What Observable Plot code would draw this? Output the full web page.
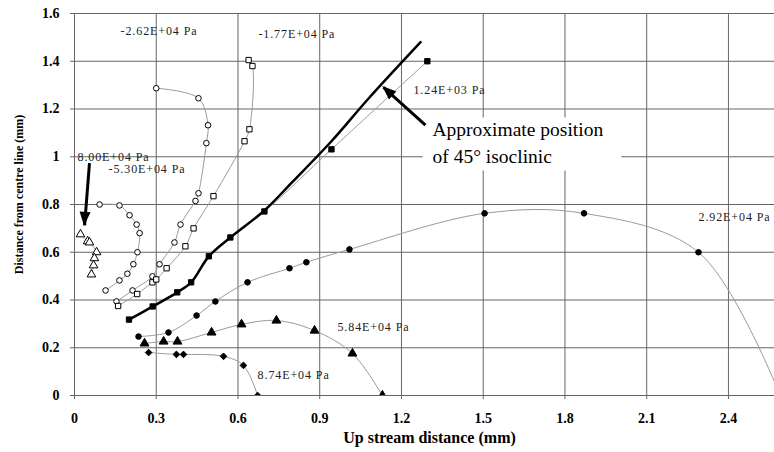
<!DOCTYPE html>
<html><head><meta charset="utf-8">
<script src="https://cdn.jsdelivr.net/npm/d3@7"></script>
<script src="https://cdn.jsdelivr.net/npm/@observablehq/plot@0.6"></script>
<style>
body{margin:0;background:#fff}
#chart svg, #chart svg text { font-family: "Liberation Serif", "Times New Roman", Times, "DejaVu Serif", serif !important; }
</style>
</head><body><div id="chart"></div>
<script>
// ticks and domains
const xTicks = [0, 0.3, 0.6, 0.9, 1.2, 1.5, 1.8, 2.1, 2.4];
const yTicks = [0, 0.2, 0.4, 0.6, 0.8, 1, 1.2, 1.4, 1.6];
const xDomain = [0, 2.569];
const yDomain = [0, 1.6];

// series (x = up stream distance, y = distance from centre line), mm
const s800X = [0.022, 0.048, 0.055, 0.081, 0.073, 0.070, 0.062];
const s800Y = [0.675, 0.646, 0.641, 0.600, 0.575, 0.545, 0.507];

const m530X = [0.114, 0.165, 0.194, 0.216, 0.231, 0.239, 0.228, 0.202, 0.165, 0.092];
const m530Y = [0.440, 0.482, 0.510, 0.550, 0.600, 0.680, 0.716, 0.755, 0.796, 0.800];

const m262X = [0.154, 0.213, 0.286, 0.312, 0.367, 0.389, 0.444, 0.455, 0.484, 0.490, 0.455, 0.300];
const m262Y = [0.394, 0.440, 0.499, 0.550, 0.641, 0.716, 0.815, 0.847, 1.057, 1.132, 1.245, 1.287];

const m177X = [0.160, 0.230, 0.286, 0.300, 0.338, 0.407, 0.437, 0.510, 0.624, 0.642, 0.653, 0.639];
const m177Y = [0.375, 0.425, 0.474, 0.486, 0.533, 0.625, 0.700, 0.835, 1.065, 1.115, 1.380, 1.405];

const p124X = [0.200, 0.287, 0.377, 0.428, 0.493, 0.572, 0.697, 0.943, 1.295];
const p124Y = [0.318, 0.373, 0.432, 0.474, 0.583, 0.662, 0.771, 1.031, 1.400];

const isoX = [0.200, 0.287, 0.377, 0.428, 0.493, 0.572, 0.697, 0.800, 0.943, 1.080, 1.270];
const isoY = [0.318, 0.373, 0.432, 0.474, 0.583, 0.662, 0.775, 0.895, 1.065, 1.245, 1.480];

const p292X = [0.235, 0.345, 0.448, 0.517, 0.635, 0.789, 0.851, 1.009, 1.505, 1.870, 2.290, 2.590];
const p292Y = [0.247, 0.264, 0.335, 0.394, 0.474, 0.533, 0.558, 0.612, 0.763, 0.763, 0.600, 0.000];

const p584X = [0.257, 0.327, 0.378, 0.503, 0.613, 0.741, 0.881, 1.020, 1.130];
const p584Y = [0.218, 0.226, 0.226, 0.264, 0.298, 0.314, 0.272, 0.176, 0.000];

const p874X = [0.272, 0.374, 0.400, 0.547, 0.620, 0.672];
const p874Y = [0.180, 0.172, 0.172, 0.164, 0.126, 0.000];

// annotations
const labelText = ["-2.62E+04 Pa", "-1.77E+04 Pa", "1.24E+03 Pa", "8.00E+04 Pa", "-5.30E+04 Pa", "2.92E+04 Pa", "5.84E+04 Pa", "8.74E+04 Pa"];
const labelX = [0.169, 0.675, 1.244, 0.011, 0.125, 2.290, 0.965, 0.672];
const labelY = [1.526, 1.514, 1.279, 1.000, 0.950, 0.746, 0.285, 0.084];

const noteText = ["Approximate position", "of 45° isoclinic"];
const noteX = [1.314, 1.314];
const noteY = [1.111, 0.998];

const arrowX1 = [1.288, 0.055];
const arrowY1 = [1.132, 0.973];
const arrowX2 = [1.134, 0.037];
const arrowY2 = [1.291, 0.713];

const xLabel = "Up stream distance (mm)";
const yLabel = "Distance from centre line (mm)";

// build tables
const pts = (xs, ys) => xs.map((x, i) => ({x, y: ys[i]}));
const series = [
  {d: pts(s800X, s800Y), symbol: "triangle", fill: "white", r: 3.2},
  {d: pts(m530X, m530Y), symbol: "circle", fill: "white", r: 2.8},
  {d: pts(m262X, m262Y), symbol: "circle", fill: "white", r: 2.8},
  {d: pts(m177X, m177Y), symbol: "square", fill: "white", r: 3.0},
  {d: pts(p124X, p124Y), symbol: "square", fill: "black", r: 3.0},
  {d: pts(p292X, p292Y), symbol: "circle", fill: "black", r: 2.8},
  {d: pts(p584X, p584Y), symbol: "triangle", fill: "black", r: 3.3},
  {d: pts(p874X, p874Y), symbol: "diamond2", fill: "black", r: 3.0}
];
const iso = pts(isoX, isoY);
const labels = labelText.map((t, i) => ({t, x: labelX[i], y: labelY[i]}));
const notes = noteText.map((t, i) => ({t, x: noteX[i], y: noteY[i]}));
const arrows = arrowX1.map((x1, i) => ({x1, y1: arrowY1[i], x2: arrowX2[i], y2: arrowY2[i]}));

const marks = [
  Plot.ruleY(yTicks, {stroke: "#666", strokeWidth: 1, insetLeft: -4}),
  Plot.ruleX(xTicks, {stroke: "#666", strokeWidth: 1, insetBottom: -4}),
  Plot.axisX({ticks: xTicks, tickSize: 0, tickPadding: 18, label: null, fontSize: 14, tickFormat: d => String(d)}),
  Plot.axisY({ticks: yTicks, tickSize: 0, tickPadding: 15, label: null, fontSize: 14, tickFormat: d => String(d)}),
  Plot.text([xLabel], {frameAnchor: "bottom", lineAnchor: "middle", textAnchor: "middle", dy: 42, dx: 5, fontSize: 16}),
  Plot.text([yLabel], {x: () => xDomain[0], y: () => (yDomain[0] + yDomain[1]) / 2, rotate: -90, textAnchor: "middle", lineAnchor: "middle", dx: -55, dy: -10, fontSize: 12})
];
for (const s of series) {
  marks.push(Plot.line(s.d, {x: "x", y: "y", stroke: "#9a9a9a", strokeWidth: 1, curve: "catmull-rom", clip: true}));
}
marks.push(Plot.line(iso, {x: "x", y: "y", stroke: "black", strokeWidth: 2.5, curve: "catmull-rom"}));
for (const s of series) {
  marks.push(Plot.dot(s.d, {x: "x", y: "y", symbol: () => s.symbol, fill: s.fill, stroke: "black", strokeWidth: 1, r: s.r, clip: true}));
}
marks.push(Plot.text(labels, {x: "x", y: "y", text: "t", textAnchor: "start", fontSize: 12, fontWeight: "normal", fill: "#222"}));
marks.push(Plot.text(notes, {x: "x", y: "y", text: "t", textAnchor: "start", fontSize: 19.5, fontWeight: "normal", fill: "black"}));
marks.push(Plot.link(arrows, {x1: "x1", y1: "y1", x2: "x2", y2: "y2", stroke: "black", strokeWidth: 3}));

const chart = Plot.plot({
  width: 774, height: 452,
  marginLeft: 74, marginRight: 0, marginTop: 13, marginBottom: 57,
  x: {domain: xDomain},
  y: {domain: yDomain},
  style: {fontSize: "14px", fontWeight: "bold", background: "white", color: "black"},
  marks
});
document.getElementById("chart").appendChild(chart);

const NS = "http://www.w3.org/2000/svg";
// post-process: letter spacing on small labels, white box behind the note
const svgRect = chart.getBoundingClientRect();
const allText = Array.from(chart.querySelectorAll("text"));
allText.filter(t => labelText.includes(t.textContent)).forEach(t => t.setAttribute("letter-spacing", "0.9"));
const noteEls = allText.filter(t => noteText.includes(t.textContent));
if (noteEls.length) {
  let x0 = Infinity, y0 = Infinity, x1 = -Infinity, y1 = -Infinity;
  noteEls.forEach(t => { const b = t.getBoundingClientRect(); x0 = Math.min(x0, b.left); y0 = Math.min(y0, b.top); x1 = Math.max(x1, b.right); y1 = Math.max(y1, b.bottom); });
  const g = noteEls[0].closest("g[aria-label='text']") || noteEls[0].parentNode;
  const rect = document.createElementNS(NS, "rect");
  rect.setAttribute("x", x0 - svgRect.left - 10);
  rect.setAttribute("y", y0 - svgRect.top - 2);
  rect.setAttribute("width", x1 - x0 + 28);
  rect.setAttribute("height", y1 - y0 + 5);
  rect.setAttribute("fill", "white");
  g.parentNode.insertBefore(rect, g);
}
// filled arrow heads, positioned through the plot's scales
const sx = chart.scale("x"), sy = chart.scale("y");
for (const a of arrows) {
  const ax = sx.apply(a.x1), ay = sy.apply(a.y1), bx = sx.apply(a.x2), by = sy.apply(a.y2);
  const len = Math.hypot(bx - ax, by - ay), ux = (bx - ax) / len, uy = (by - ay) / len;
  const L = 13, W = 5.5;
  const p = [[bx + ux, by + uy], [bx - L * ux - W * uy, by - L * uy + W * ux], [bx - L * ux + W * uy, by - L * uy - W * ux]];
  const poly = document.createElementNS(NS, "polygon");
  poly.setAttribute("points", p.map(q => q.join(",")).join(" "));
  poly.setAttribute("fill", "black");
  chart.appendChild(poly);
}
</script>
</body></html>
